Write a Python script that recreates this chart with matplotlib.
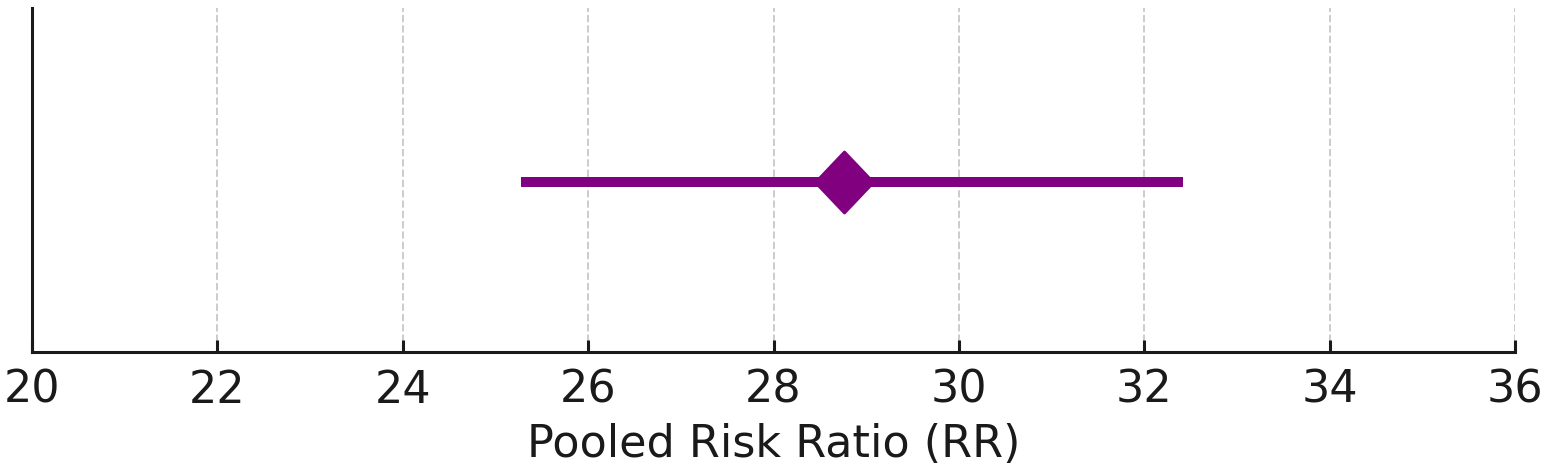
import matplotlib
matplotlib.use("Agg")
import matplotlib.pyplot as plt
from matplotlib.path import Path

# Data
pooled_rr = [28.76]
ci_lower = [25.28]
ci_upper = [32.42]
x_ticks = [20, 22, 24, 26, 28, 30, 32, 34, 36]
x_label = "Pooled Risk Ratio (RR)"

fig = plt.figure(figsize=(1547/200, 473/200), dpi=200)
ax = fig.add_axes([32/1547, 1-352/473, (1515-32)/1547, (352-8)/473])

color = "#800080"
ax.hlines([0], ci_lower, ci_upper, color=color, linewidth=3.6, zorder=3)
diamond = Path([(0, 1), (0.95, 0), (0, -1), (-0.95, 0), (0, 1)],
               [Path.MOVETO, Path.LINETO, Path.LINETO, Path.LINETO, Path.CLOSEPOLY])
ax.plot(pooled_rr, [0], marker=diamond, markersize=22, color=color,
        linestyle="none", zorder=4)

ax.set_xlim(20, 36)
ax.set_ylim(-0.99, 1.01)
ax.set_xticks(x_ticks)
ax.set_xticklabels([str(t) for t in x_ticks])
ax.set_yticks([])
ax.grid(axis="x", linestyle="--", color="#cccccc", linewidth=0.7)
ax.set_axisbelow(True)

for s in ["top", "right"]:
    ax.spines[s].set_visible(False)
for s in ["left", "bottom"]:
    ax.spines[s].set_linewidth(1.1)
    ax.spines[s].set_color("#1a1a1a")

ax.tick_params(axis="x", direction="in", length=4.3, width=1.1, colors="#1a1a1a",
               labelsize=16, pad=6)
ax.set_xlabel(x_label, fontsize=16, color="#1a1a1a", labelpad=4)

fig.savefig("out.png", dpi=200)
